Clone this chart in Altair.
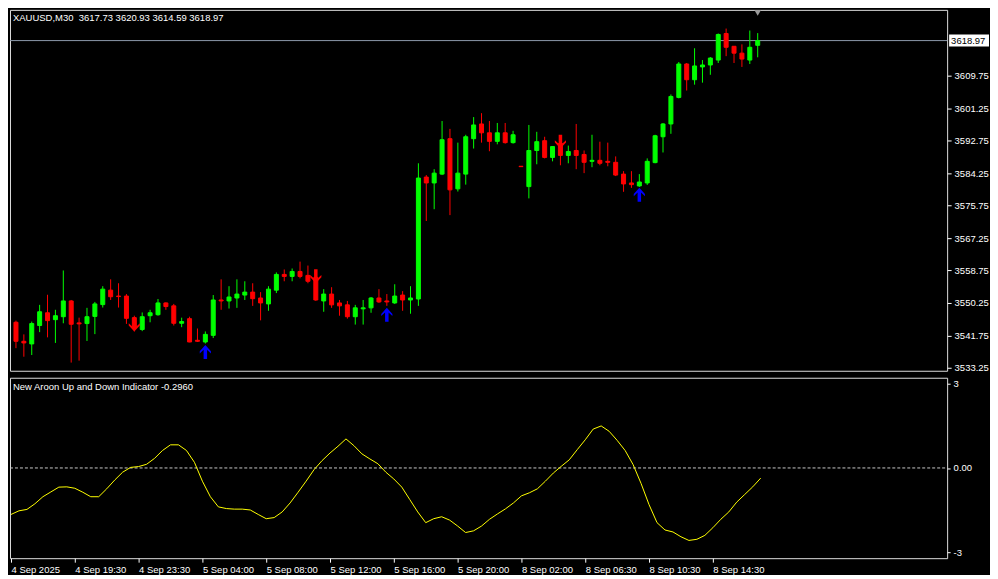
import altair as alt
import pandas as pd

FONT = "Liberation Sans"

# ---------------- data ----------------
opens = [3545.18, 3540.20, 3539.51, 3544.33, 3547.67, 3545.87, 3546.64, 3550.77, 3545.02, 3544.84,
         3546.72, 3549.81, 3553.60, 3552.05, 3552.05, 3546.39, 3543.30, 3546.90, 3547.16, 3550.25,
         3549.48, 3544.92, 3546.13, 3540.46, 3540.02, 3541.75, 3551.02, 3550.77, 3551.54, 3552.31,
         3553.08, 3551.54, 3549.99, 3553.60, 3557.72, 3557.20, 3558.49, 3557.46, 3556.95, 3550.77,
         3552.57, 3550.25, 3549.74, 3546.64, 3548.70, 3548.96, 3551.54, 3550.77, 3550.25, 3552.31,
         3551.02, 3551.28, 3583.22, 3581.68, 3583.99, 3593.27, 3580.13, 3583.99, 3593.27, 3597.13,
         3594.81, 3592.57, 3594.81, 3592.24, 3586.05, 3580.72, 3590.18, 3592.75, 3588.37, 3591.98,
         3588.89, 3590.18, 3589.14, 3587.34, 3587.60, 3587.34, 3587.08, 3583.99, 3581.68, 3580.90,
         3581.68, 3587.01, 3593.78, 3597.13, 3604.08, 3612.84, 3608.72, 3612.07, 3612.58, 3613.87,
         3620.83, 3617.48, 3615.68, 3613.87, 3617.73]
highs = [3545.61, 3542.01, 3545.36, 3549.74, 3552.39, 3548.45, 3558.75, 3551.02, 3546.39, 3548.96,
         3550.51, 3554.63, 3556.43, 3555.40, 3552.57, 3546.90, 3547.75, 3548.45, 3551.28, 3550.40,
         3549.99, 3546.39, 3546.64, 3543.55, 3542.78, 3552.31, 3556.43, 3554.63, 3556.43, 3555.92,
         3555.40, 3553.08, 3554.63, 3558.24, 3559.01, 3559.27, 3561.07, 3560.04, 3558.75, 3553.86,
         3554.37, 3551.02, 3550.77, 3549.74, 3551.02, 3551.80, 3553.86, 3552.57, 3555.14, 3553.34,
         3554.63, 3586.83, 3583.74, 3585.28, 3597.90, 3595.84, 3592.24, 3594.30, 3598.93, 3599.96,
         3597.90, 3597.39, 3597.39, 3595.33, 3586.10, 3596.87, 3595.07, 3593.78, 3591.35, 3594.04,
         3591.46, 3597.13, 3590.18, 3594.30, 3592.49, 3592.24, 3588.63, 3584.77, 3584.77, 3583.99,
         3588.11, 3594.30, 3597.39, 3604.86, 3613.36, 3613.10, 3616.96, 3613.87, 3614.65, 3620.83,
         3622.12, 3617.55, 3617.99, 3621.60, 3620.93]
lows = [3538.40, 3536.16, 3536.60, 3542.60, 3541.23, 3539.77, 3544.92, 3534.62, 3535.13, 3540.28,
        3542.08, 3549.04, 3551.02, 3549.04, 3544.76, 3542.78, 3542.86, 3545.18, 3546.90, 3548.45,
        3544.33, 3543.89, 3539.95, 3540.02, 3539.61, 3541.05, 3548.45, 3548.78, 3548.96, 3551.02,
        3549.48, 3545.69, 3548.19, 3552.83, 3555.92, 3555.92, 3556.69, 3555.40, 3550.77, 3547.93,
        3548.96, 3546.90, 3546.13, 3544.58, 3544.58, 3547.67, 3550.25, 3549.48, 3549.99, 3548.19,
        3547.42, 3549.48, 3571.71, 3574.80, 3583.74, 3573.25, 3579.43, 3581.24, 3590.69, 3592.24,
        3589.99, 3591.80, 3591.98, 3591.98, 3585.90, 3577.63, 3586.57, 3588.11, 3587.34, 3586.31,
        3586.83, 3585.28, 3584.25, 3585.80, 3586.31, 3586.05, 3583.48, 3579.36, 3580.39, 3580.64,
        3581.16, 3586.83, 3589.66, 3594.55, 3603.83, 3605.89, 3607.43, 3607.95, 3610.01, 3613.10,
        3614.90, 3613.10, 3612.07, 3612.84, 3614.59]
closes = [3540.20, 3539.77, 3544.84, 3547.93, 3545.61, 3546.90, 3550.77, 3544.66, 3544.76, 3546.64,
          3549.99, 3553.86, 3551.87, 3551.92, 3546.21, 3543.81, 3546.64, 3547.67, 3550.25, 3549.30,
          3544.92, 3545.36, 3540.02, 3540.20, 3542.01, 3551.02, 3550.77, 3551.80, 3552.57, 3553.08,
          3551.36, 3550.25, 3553.86, 3557.72, 3557.20, 3558.49, 3557.20, 3555.92, 3551.02, 3552.57,
          3549.74, 3549.48, 3546.64, 3548.96, 3548.96, 3551.54, 3550.51, 3550.51, 3552.05, 3551.02,
          3551.54, 3582.96, 3581.68, 3584.25, 3593.01, 3579.87, 3584.25, 3593.78, 3596.87, 3594.81,
          3592.57, 3594.81, 3592.24, 3594.30, 3585.95, 3590.18, 3592.49, 3588.37, 3591.21, 3588.89,
          3589.92, 3588.89, 3587.08, 3587.60, 3586.83, 3587.08, 3583.74, 3581.42, 3581.24, 3581.93,
          3587.34, 3594.04, 3597.13, 3604.34, 3612.84, 3608.72, 3612.33, 3612.58, 3614.39, 3620.57,
          3617.22, 3615.68, 3614.13, 3617.22, 3618.97]

aroon = [-1.65, -1.52, -1.47, -1.27, -1.02, -0.85, -0.68, -0.67, -0.72, -0.86,
         -1.02, -1.02, -0.74, -0.43, -0.15, 0.02, 0.05, 0.13, 0.34, 0.62,
         0.82, 0.82, 0.62, 0.20, -0.47, -1.02, -1.38, -1.44, -1.46, -1.46,
         -1.49, -1.65, -1.80, -1.76, -1.56, -1.24, -0.86, -0.47, -0.06, 0.26,
         0.53, 0.77, 1.03, 0.79, 0.50, 0.32, 0.15, -0.15, -0.39, -0.68,
         -1.12, -1.56, -1.94, -1.80, -1.73, -1.85, -2.06, -2.29, -2.23, -2.06,
         -1.82, -1.63, -1.45, -1.24, -0.99, -0.88, -0.74, -0.47, -0.18, 0.06,
         0.29, 0.65, 1.00, 1.38, 1.49, 1.30, 0.98, 0.62, 0.12, -0.55,
         -1.30, -1.94, -2.20, -2.27, -2.44, -2.57, -2.53, -2.39, -2.12, -1.82,
         -1.56, -1.21, -0.94, -0.67, -0.36]

up_arrow_idx = [24, 47, 79]
up_arrow_price = [3537.37, 3547.16, 3578.59]
down_arrow_idx = [15, 38, 69]
down_arrow_price = [3544.58, 3557.21, 3592.50]

time_label_idx = [0, 8, 16, 24, 32, 40, 48, 56, 64, 72, 80, 88]
time_labels = ["4 Sep 2025", "4 Sep 19:30", "4 Sep 23:30", "5 Sep 04:00", "5 Sep 08:00",
               "5 Sep 12:00", "5 Sep 16:00", "5 Sep 20:00", "8 Sep 02:00", "8 Sep 06:30",
               "8 Sep 10:30", "8 Sep 14:30"]
price_ticks = [3533.25, 3541.75, 3550.25, 3558.75, 3567.25, 3575.75, 3584.25, 3592.75,
               3601.25, 3609.75]
ind_ticks = [-3, 0, 3]
ind_tick_labels = ["-3", "0.00", "3"]
last_price = 3618.97
last_price_text = "3618.97"
shift_marker_idx = [94]
header_text = "XAUUSD,M30\u00a0 3617.73 3620.93 3614.59 3618.97"
ind_title_text = "New Aroon Up and Down Indicator -0.2960"

# ---------------- layout ----------------
W = 940
HM = 362
HI = 181

n = len(opens)
candles = pd.DataFrame({
    "i": list(range(n)), "open": opens, "high": highs, "low": lows, "close": closes,
})
candles["dir"] = ["up" if c >= o else "down" for o, c in zip(opens, closes)]

xs = alt.Scale(domain=[-0.125, -0.125 + W / 8], nice=False, zero=False)
ps = alt.Scale(domain=[3532.48, 3627.02], nice=False, zero=False)
iscale = alt.Scale(domain=[-3.2, 3.2], nice=False, zero=False)
cscale = alt.Scale(domain=["up", "down"], range=["#00ff00", "#ff0000"])

price_axis = alt.Axis(orient="right", values=price_ticks, format=".2f", title=None,
                      grid=False, domain=False, tickColor="white", tickSize=4,
                      labelColor="white", labelFont=FONT, labelFontSize=9.5,
                      labelPadding=3, labelOverlap=False, labelFlush=False)

X = alt.X("i:Q", scale=xs, axis=None)

price_line = alt.Chart(pd.DataFrame({"p": [last_price]})).mark_rule(
    color="#8c99ab", strokeWidth=1).encode(
    y=alt.Y("p:Q", scale=ps, axis=price_axis), x=alt.value(0), x2=alt.value(W))

wicks = alt.Chart(candles).mark_rule(strokeWidth=1, clip=True).encode(
    x=X,
    y=alt.Y("low:Q", scale=ps, axis=price_axis),
    y2="high:Q",
    color=alt.Color("dir:N", scale=cscale, legend=None),
)
bodies = alt.Chart(candles).mark_bar(width=4, strokeWidth=1, clip=True).encode(
    x=X,
    y=alt.Y("open:Q", scale=ps, axis=price_axis),
    y2="close:Q",
    fill=alt.Fill("dir:N", scale=cscale, legend=None),
    stroke=alt.Stroke("dir:N", scale=cscale, legend=None),
)

UP_PATH = ("M0,-1 L0.8,-0.12 L0.8,0.2 L0.25,-0.32 L0.25,1 L-0.25,1 L-0.25,-0.32 "
           "L-0.8,0.2 L-0.8,-0.12 Z")
DOWN_PATH = ("M0,1 L0.8,0.12 L0.8,-0.2 L0.25,0.32 L0.25,-1 L-0.25,-1 L-0.25,0.32 "
             "L-0.8,-0.2 L-0.8,0.12 Z")

up_arrows = alt.Chart(pd.DataFrame({"i": up_arrow_idx, "p": up_arrow_price})).mark_point(
    shape=UP_PATH, filled=True, color="#0000ff", size=196, opacity=1, strokeWidth=0).encode(
    x=X, y=alt.Y("p:Q", scale=ps, axis=price_axis))
down_arrows = alt.Chart(pd.DataFrame({"i": down_arrow_idx, "p": down_arrow_price})).mark_point(
    shape=DOWN_PATH, filled=True, color="#ff0000", size=196, opacity=1, strokeWidth=0).encode(
    x=X, y=alt.Y("p:Q", scale=ps, axis=price_axis))

box_df = pd.DataFrame({"p": [last_price], "t": [last_price_text]})
price_box = alt.Chart(box_df).mark_rect(color="white", yOffset=-6, y2Offset=6).encode(
    x=alt.value(W + 2), x2=alt.value(W + 42),
    y=alt.Y("p:Q", scale=ps, axis=price_axis), y2="p:Q")
price_box_text = alt.Chart(box_df).mark_text(
    align="left", baseline="middle", color="black", font=FONT, fontSize=9.5).encode(
    x=alt.value(W + 4), y=alt.Y("p:Q", scale=ps, axis=price_axis), text="t:N")

shift_marker = alt.Chart(pd.DataFrame({"i": shift_marker_idx})).mark_point(
    shape="triangle-down", filled=True, color="#9a9a9a", size=45, opacity=1,
    strokeWidth=0).encode(x=X, y=alt.value(3))

header = alt.Chart(pd.DataFrame({"t": [header_text]})).mark_text(
    align="left", baseline="middle", color="white", font=FONT, fontSize=9.5).encode(
    x=alt.value(3), y=alt.value(8), text="t:N")

main = alt.layer(price_line, wicks, bodies, up_arrows, down_arrows, price_box,
                 price_box_text, shift_marker, header).properties(width=W, height=HM)

# ---------------- indicator panel ----------------
label_expr = "{" + ",".join(f"'{k}':'{v}'" for k, v in zip(time_label_idx, time_labels)) + "}[datum.value]"
time_axis = alt.Axis(orient="bottom", values=time_label_idx, labelExpr=label_expr, title=None,
                     grid=False, domain=False, tickColor="white", tickSize=4,
                     labelColor="white", labelFont=FONT, labelFontSize=9.5,
                     labelAlign="left", labelPadding=2, labelOverlap=False, labelFlush=False)
ind_expr = "{" + ",".join(f"'{k}':'{v}'" for k, v in zip(ind_ticks, ind_tick_labels)) + "}[datum.value]"
ind_axis = alt.Axis(orient="right", values=ind_ticks, labelExpr=ind_expr, title=None,
                    grid=False, domain=False, tickColor="white", tickSize=3,
                    labelColor="white", labelFont=FONT, labelFontSize=9.5,
                    labelPadding=3, labelOverlap=False, labelFlush=False)

ind_df = pd.DataFrame({"i": list(range(len(aroon))), "v": aroon})
XI = alt.X("i:Q", scale=xs, axis=time_axis)

zero_line = alt.Chart(pd.DataFrame({"z": [0], "i": [0]})).mark_rule(
    color="#c8c8c8", strokeDash=[3, 2], strokeWidth=1).encode(
    y=alt.Y("z:Q", scale=iscale, axis=ind_axis), x=alt.value(0), x2=alt.value(W))
ind_line = alt.Chart(ind_df).mark_line(color="#ffff00", strokeWidth=1).encode(
    x=XI, y=alt.Y("v:Q", scale=iscale, axis=ind_axis))
ind_title = alt.Chart(pd.DataFrame({"t": [ind_title_text]})).mark_text(
    align="left", baseline="middle", color="white", font=FONT, fontSize=9.5).encode(
    x=alt.value(3), y=alt.value(9), text="t:N")

ind = alt.layer(zero_line, ind_line, ind_title).properties(width=W, height=HI)

chart = alt.vconcat(main, ind, spacing=3).properties(
    padding=0, background="#000000"
).configure_view(stroke="white", strokeWidth=1).configure(font=FONT)

chart.save("out.html", embed_options={"renderer": "svg", "actions": False})
